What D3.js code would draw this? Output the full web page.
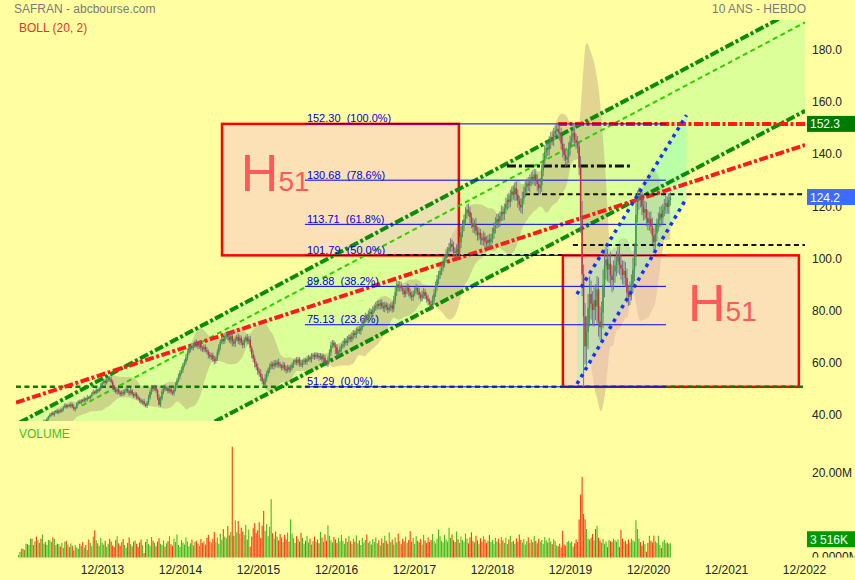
<!DOCTYPE html>
<html><head><meta charset="utf-8">
<script src="https://cdn.jsdelivr.net/npm/d3@7"></script>
<style>
body{margin:0;background:#FFFFA2;}
svg{display:block;font-family:"Liberation Sans",Arial,sans-serif;}
</style>
</head><body>
<svg id="c" width="855" height="580"></svg>
<script>
// ---------- DATA ----------
const startDate = "2012-11-05"; // first weekly candle
const closes = [
31.2,31.8,32.5,32.1,33.0,33.6,33.2,34.1,34.8,34.3,35.2,35.9,35.5,36.4,37.1,36.6,37.5,38.2,37.8,38.9,
39.8,40.5,41.2,40.6,41.5,42.0,41.3,42.2,41.8,
42.6,43.4,44.1,43.5,44.3,43.8,44.6,43.6,42.7,43.2,
44.8,45.6,45.1,46.2,45.7,46.8,46.3,47.2,46.9,47.8,
48.6,49.4,48.9,50.1,49.6,50.5,
51.8,52.9,53.6,52.8,53.9,54.6,54.1,53.2,
51.5,50.2,49.4,50.3,49.1,48.4,49.2,48.7,49.8,
50.4,49.6,48.8,49.9,48.5,47.9,48.6,47.4,46.8,
46.1,45.3,45.8,44.6,44.0,45.2,
47.1,49.3,51.2,50.4,50.9,49.8,47.2,
44.5,46.8,
49.5,51.1,50.3,50.8,49.6,50.5,49.4,
48.8,50.2,52.0,
53.8,55.2,56.9,57.8,59.6,60.8,62.5,
64.4,65.8,66.9,66.2,67.5,68.1,67.3,
66.8,67.9,66.3,65.7,66.6,65.4,64.8,
63.6,62.8,63.4,61.9,61.2,62.3,
64.5,66.8,68.4,69.6,68.9,70.8,71.5,
70.4,69.2,70.9,68.6,67.9,69.6,70.5,68.9,70.1,68.2,67.4,69.3,70.2,68.8,69.5,
66.2,63.8,62.1,60.2,58.9,57.3,56.5,
55.1,53.4,52.2,54.6,56.3,
57.8,58.9,60.1,59.2,60.4,59.6,60.8,59.9,
59.3,58.6,59.7,58.2,57.6,58.8,57.9,58.5,59.8,
60.7,61.5,60.6,61.8,60.2,59.7,60.9,61.4,60.8,
61.9,62.6,61.8,62.9,63.4,62.7,63.6,63.1,62.5,
63.2,61.9,62.4,60.8,60.1,61.7,
64.5,67.2,68.3,67.1,66.5,
63.8,64.6,
65.9,66.8,67.6,68.9,68.2,69.5,70.3,69.6,70.8,71.9,71.2,72.6,73.4,72.8,
74.1,75.6,76.9,78.2,77.6,79.4,80.1,79.3,80.8,81.6,82.3,
83.1,82.4,83.6,82.2,81.5,82.8,81.9,80.9,81.7,82.6,81.3,
84.5,87.8,90.6,89.4,90.2,
89.1,88.3,86.9,88.2,89.5,87.6,86.4,85.8,87.1,88.4,89.2,87.9,86.6,85.5,86.8,87.7,86.2,85.1,84.2,83.1,82.4,84.6,
87.2,89.8,92.6,94.3,95.9,97.2,99.1,100.6,102.3,103.5,
104.8,106.2,105.1,103.4,102.8,104.3,103.1,
106.8,110.5,113.2,115.6,117.9,119.4,118.6,
116.5,114.1,112.6,113.8,111.2,109.6,110.5,108.4,107.6,
108.9,107.2,106.4,107.8,106.9,108.3,
110.2,112.5,114.1,115.7,114.8,116.9,118.5,117.6,119.8,
121.5,123.2,122.4,124.8,126.3,125.2,127.6,
125.1,122.8,121.3,120.2,
123.6,126.2,127.9,129.4,128.6,130.7,131.9,131.1,132.8,
130.6,129.2,127.5,128.8,
134.5,138.2,141.6,143.1,142.4,145.2,147.1,146.3,148.5,
149.6,150.4,149.2,148.6,
144.8,142.1,140.3,138.6,139.5,
142.8,145.6,147.3,148.9,146.2,
145.0,143.6,
135.7,116.2,94.5,78.3,66.8,72.4,
81.6,86.9,83.2,80.8,84.5,82.1,
88.7,76.4,74.2,79.8,
90.5,97.8,100.2,96.4,98.6,94.1,92.3,95.6,97.9,99.4,
101.6,98.2,96.7,94.3,95.8,93.1,
87.4,85.9,88.2,90.7,
96.3,101.2,
117.4,122.8,124.6,123.1,
120.5,118.2,119.6,116.1,114.3,115.8,112.9,
109.4,106.8,110.2,
113.5,115.4,117.8,116.3,119.2,120.6,121.9,
120.4,123.1,124.2
];
// upper wick above the body, lower wick below the body
const highExt = [
0.4,0.5,0.3,0.6,0.4,0.5,0.3,0.6,0.5,0.4,0.6,0.3,0.5,0.4,0.6,0.5,0.3,0.6,0.4,0.5,
0.4,0.6,0.3,0.8,0.5,0.4,0.7,0.3,0.6,0.5,0.4,0.8,0.6,0.3,0.5,0.7,0.4,0.9,0.5,0.6,
0.5,0.8,0.4,0.6,0.7,0.3,0.9,0.5,0.4,0.6,0.8,0.5,0.7,0.4,0.6,0.9,0.5,0.7,0.8,0.6,
0.9,0.7,1.1,0.8,0.6,0.9,0.5,0.8,0.7,0.6,0.9,0.5,0.8,0.7,0.6,0.9,0.5,0.7,0.8,0.6,
0.7,0.5,0.8,0.6,0.9,0.5,0.7,1.1,0.9,0.8,0.7,0.9,1.0,0.6,1.2,0.8,0.9,0.7,1.0,0.6,
0.8,0.7,0.9,0.6,0.8,1.0,0.9,1.1,0.8,1.2,0.9,1.0,1.3,0.8,1.1,0.9,1.2,0.7,1.0,1.4,
0.9,1.1,1.3,0.8,1.0,0.9,1.2,0.8,1.1,0.9,1.0,1.3,0.8,1.2,0.9,1.1,1.4,0.8,1.2,1.0,
1.3,0.9,1.1,1.6,1.2,1.0,0.8,1.3,1.1,0.9,1.2,1.0,0.8,1.4,1.1,1.3,0.9,1.5,1.2,1.0,
1.4,1.1,1.6,1.2,1.0,1.5,1.1,0.9,1.3,1.0,0.8,1.2,1.1,0.9,1.3,1.0,0.8,1.2,0.9,1.1,
1.0,0.8,1.3,0.9,1.1,0.8,1.2,1.0,0.9,1.3,0.8,1.1,0.9,1.2,1.0,0.8,1.3,0.9,1.1,1.0,
0.8,1.2,1.0,0.9,1.4,1.1,0.8,1.3,1.2,1.5,1.0,0.9,1.3,1.1,0.9,1.2,1.0,1.4,1.1,0.9,
1.3,1.1,1.0,1.4,1.2,0.9,1.5,1.1,1.3,1.0,1.4,1.2,1.6,1.1,1.3,1.5,1.0,1.4,1.2,1.6,
1.3,1.5,1.1,1.4,1.6,1.2,1.0,1.5,1.3,1.1,1.4,1.8,2.1,1.5,1.3,1.7,1.4,1.2,1.6,1.3,
1.5,1.2,1.4,1.6,1.1,1.3,1.7,1.2,1.5,1.0,1.4,1.6,1.2,1.3,1.5,1.1,1.4,1.8,1.6,1.9,
1.7,1.5,1.8,1.4,1.9,1.6,2.0,1.5,1.8,2.2,1.6,1.9,1.4,1.7,2.0,2.3,2.6,2.1,1.8,2.4,
2.0,2.3,1.9,1.6,2.1,1.8,2.4,1.7,2.0,1.5,1.9,2.2,1.6,2.0,1.8,2.3,1.7,2.1,1.9,2.4,
2.0,2.2,1.8,2.5,2.1,1.9,2.4,2.0,2.6,2.2,1.9,2.3,2.1,2.5,2.0,1.8,2.3,2.6,2.1,2.4,
2.0,2.5,2.2,1.9,2.6,2.3,2.1,2.4,2.0,2.7,2.3,2.8,2.5,2.2,2.6,2.4,2.0,2.7,2.3,2.1,
1.9,2.4,2.6,2.2,2.8,2.5,2.1,2.9,2.4,2.2,2.6,3.4,2.5,2.2,2.6,2.1,4.2,6.5,3.8,5.2,
6.1,5.4,6.8,5.2,4.9,5.6,6.2,5.1,4.6,5.8,4.3,5.9,6.3,4.8,4.1,3.7,4.5,3.9,4.2,3.6,
4.0,3.5,4.3,3.8,3.2,3.9,3.4,3.6,3.1,3.5,3.8,4.6,5.2,6.4,3.9,3.3,2.8,3.5,2.9,3.2,
2.7,3.1,2.6,2.9,3.4,2.8,3.2,2.5,2.9,2.6,3.0,2.4,2.8,2.7,2.5,2.6,1.8
];
const lowExt = [
0.3,0.5,0.4,0.3,0.6,0.4,0.5,0.3,0.4,0.6,0.3,0.5,0.4,0.3,0.5,0.4,0.6,0.3,0.5,0.4,
0.5,0.3,0.6,0.4,0.7,0.5,0.3,0.6,0.4,0.5,0.7,0.4,0.6,0.5,0.3,0.8,0.5,0.6,0.9,0.4,
0.6,0.4,0.7,0.5,0.3,0.8,0.6,0.4,0.5,0.7,0.4,0.6,0.5,0.8,0.4,0.7,0.6,0.5,0.9,0.6,
0.7,0.8,0.6,1.0,0.9,0.7,1.1,0.6,0.8,0.7,0.9,0.6,0.8,0.7,1.0,0.6,0.8,0.9,0.7,1.0,
0.8,0.9,0.7,1.0,0.8,0.6,0.9,0.8,0.7,1.0,0.9,0.6,0.8,1.1,0.6,0.9,0.7,1.0,0.8,0.6,
0.9,0.7,1.0,0.8,0.9,0.7,1.0,0.8,1.1,0.9,1.2,0.8,1.0,1.1,0.9,1.3,0.8,1.0,1.2,0.9,
1.1,0.9,1.3,1.0,1.2,0.8,1.1,1.4,0.9,1.2,1.0,1.3,0.9,1.1,1.0,1.4,0.8,1.2,1.0,1.1,
1.2,1.0,1.4,1.8,1.1,1.3,0.9,1.2,1.5,1.0,1.3,1.1,0.9,1.2,1.0,1.4,1.6,1.3,1.5,1.2,
1.4,1.3,1.6,1.2,0.9,1.1,1.3,1.0,1.2,0.9,1.1,1.3,0.8,1.0,1.2,0.9,1.1,0.8,1.0,1.2,
0.9,1.1,1.0,0.8,1.2,0.9,1.1,1.0,1.3,0.8,1.0,1.2,0.9,1.1,0.8,1.0,1.2,0.9,1.1,0.8,
1.0,1.2,0.9,1.1,1.3,1.0,0.8,1.2,1.0,1.3,1.1,0.9,2.6,1.2,1.0,1.3,1.1,0.9,1.2,1.0,
1.1,1.3,1.0,1.2,1.4,1.1,1.3,1.0,1.2,1.5,1.1,1.3,1.0,1.4,1.2,1.1,1.5,1.3,1.0,1.2,
1.4,1.2,1.5,1.1,1.3,1.6,1.2,1.4,1.0,1.3,1.5,1.2,1.4,1.7,1.3,1.5,1.2,1.6,1.4,1.1,
1.3,1.6,1.2,1.5,1.4,1.1,1.6,1.3,1.5,1.2,1.4,1.7,1.3,1.5,1.6,1.4,1.8,1.5,1.7,1.4,
1.6,1.9,1.5,1.8,1.6,2.0,1.7,1.5,1.9,1.6,2.1,1.8,1.6,2.0,1.7,1.9,2.2,1.8,2.1,1.7,
2.0,1.8,2.3,1.9,2.1,2.4,1.8,2.2,2.0,2.5,1.9,2.1,2.3,1.8,2.2,2.0,2.4,1.9,2.1,2.3,
2.0,2.4,2.1,1.9,2.5,2.2,2.0,2.3,2.6,2.1,2.4,2.0,2.5,2.2,2.7,2.3,2.1,2.5,2.2,2.0,
2.4,2.1,2.6,2.3,2.0,2.5,2.2,2.8,2.4,2.1,2.6,2.3,2.0,2.7,2.4,2.2,2.5,2.1,2.6,2.3,
2.1,2.5,2.8,2.4,2.7,2.2,2.9,2.5,2.3,2.6,2.2,2.4,2.7,2.3,2.5,3.1,5.8,8.4,27.0,6.9,
7.5,6.8,7.2,6.1,5.9,6.4,5.2,6.6,5.8,4.9,5.5,6.1,4.8,5.3,4.6,5.1,4.2,4.7,3.9,4.4,
4.1,4.5,3.8,4.2,3.6,4.0,3.4,3.9,3.5,3.2,3.7,3.1,4.4,3.6,3.0,3.5,2.9,3.3,3.0,2.7,
3.2,2.8,3.1,2.6,3.3,2.9,2.7,3.0,2.5,2.8,3.1,2.6,2.4,2.9,2.5,2.7,2.2
];
// weekly volume, millions of shares
const volumes = [
0.7,1.5,2.2,2.2,1.9,3.4,3.3,3.1,4.6,4.6,3.1,4.0,5.1,4.2,3.6,4.6,5.6,3.4,3.8,3.1,4.3,4.2,3.8,4.9,4.6,3.1,3.4,3.3,2.7,3.6,2.4,3.9,4.1,3.2,2.6,3.5,2.9,1.8,3.1,2.5,
2.2,3.4,2.9,3.8,2.5,3.1,1.9,4.4,3.6,2.8,5.1,6.6,4.2,3.5,2.9,4.8,3.7,3.2,4.1,2.7,3.4,4.6,3.9,3.0,2.6,4.3,5.2,3.5,2.9,3.8,4.5,3.1,2.4,3.6,4.9,3.3,2.8,3.9,4.2,3.4,
2.6,3.7,4.4,3.0,1.2,3.8,4.5,3.3,2.9,5.0,4.1,3.6,2.8,3.9,4.7,3.4,3.1,4.2,2.7,3.5,4.0,5.2,3.3,2.9,4.6,3.8,5.6,3.1,2.6,4.3,3.7,3.2,4.9,3.9,2.8,3.5,4.4,3.0,3.8,4.1,
3.4,2.9,4.5,3.6,4.0,3.2,4.8,5.5,3.9,3.7,4.6,6.2,3.8,4.9,3.4,5.8,4.3,6.9,5.1,4.7,7.6,5.4,6.2,26.5,5.3,9.0,6.1,8.8,5.7,7.2,6.3,5.5,7.9,4.4,6.8,2.7,5.1,7.1,8.3,5.9,
6.6,8.5,4.8,7.7,11.2,6.4,8.1,5.2,7.4,14.0,5.9,4.6,6.3,5.1,4.2,5.7,4.9,3.8,5.5,4.4,6.1,3.9,9.2,5.8,4.7,3.6,5.2,4.5,3.9,6.0,4.8,3.4,4.1,5.3,3.7,4.6,3.2,4.0,5.1,3.8,
4.4,3.5,6.2,4.9,3.8,5.6,4.1,7.8,5.3,4.2,3.7,5.0,4.4,3.6,4.8,3.9,5.5,4.1,3.4,4.7,3.8,5.2,4.0,3.3,4.6,3.9,5.4,3.5,4.2,3.1,4.8,3.7,4.3,5.6,3.6,4.0,3.2,4.5,3.8,4.9,
3.5,4.2,3.0,4.7,3.6,5.3,4.1,3.4,6.1,3.8,4.4,3.2,4.9,3.7,5.8,4.0,3.3,4.6,3.9,5.1,3.6,4.3,6.4,3.9,4.8,3.4,5.2,4.1,3.7,4.5,3.2,5.5,4.2,3.6,4.9,3.8,4.3,5.7,4.0,3.5,
4.6,6.8,5.2,4.1,3.7,5.5,4.4,3.9,7.2,4.8,5.6,4.2,3.8,6.3,4.5,3.6,5.1,4.3,3.9,5.8,4.6,3.5,4.9,6.1,4.0,3.7,5.3,4.2,3.3,4.7,3.9,5.2,4.4,3.6,4.1,5.5,3.8,4.3,3.4,4.8,
3.9,4.6,3.5,5.0,4.2,3.6,4.8,3.3,4.4,5.3,3.8,4.1,3.4,4.7,3.9,5.6,4.3,3.7,4.5,3.2,4.0,4.9,3.6,4.4,3.8,5.2,4.1,3.5,4.6,3.9,4.3,3.4,5.0,4.2,3.7,4.8,3.9,3.3,4.5,4.0,
3.0,2.8,3.4,2.5,6.5,3.2,2.9,3.8,4.1,3.6,3.9,2.7,3.5,4.4,3.8,9.2,15.1,19.3,10.5,9.2,6.9,4.6,4.4,4.8,5.7,4.2,6.9,7.7,4.8,4.1,3.6,4.5,3.4,3.9,2.6,4.3,4.0,3.8,4.6,4.2,
3.9,4.4,2.6,6.7,4.6,3.8,4.1,3.3,4.4,3.6,4.6,4.2,3.9,9.0,6.9,4.6,3.8,2.9,4.1,3.3,1.5,3.6,5.3,4.1,3.7,5.3,4.0,3.6,5.3,3.1,2.4,3.9,4.3,3.5,3.7,3.4,3.516
];
const priceTicks = [40,60,80,100,120,140,160,180];
const volumeTicks = [0,20];
const volumeTickLabels = ["0.0000M","20.00M"];
const xTickDates = ["2013-12-01","2014-12-01","2015-12-01","2016-12-01","2017-12-01","2018-12-01","2019-12-01","2020-12-01","2021-12-01","2022-12-01"];
// Fibonacci retracement
const fibLevels = [152.30,130.68,113.71,101.79,89.88,75.13,51.29];
const fibPercents = ["100.0%","78.6%","61.8%","50.0%","38.2%","23.6%","0.0%"];
const fibSpan = ["2016-07-08","2021-02-23"];
// drawn channels / trend lines: [date, price]
const channelUpper = [["2012-11-12",37.63],["2022-12-06",198.0]];
const channelMid   = [["2013-08-29",44.1],["2022-12-06",191.3]];
const channelLower = [["2015-03-04",34.9],["2022-12-06",157.3]];
const trendRed     = [["2012-10-24",45.2],["2022-12-06",144.2]];
const blueUpper    = [["2020-01-03",86.9],["2021-05-30",155.7]];
const blueLower    = [["2020-01-03",52.4],["2021-05-30",123.8]];
// horizontal levels: [from, to, price]
const redLevel = ["2019-10-06","2022-12-06",152.3];
const blackDashDotLevel = ["2019-02-09","2020-09-17",136.1];
const blackDashLevels = [["2019-05-05","2022-12-06",125.3],["2019-12-15","2022-12-06",105.8],["2017-07-31","2019-10-24",101.9]];
const greenLevel = ["2012-10-24","2022-12-06",51.29];
// H51 boxes: [from, to, low, high], label anchor [date, price]
const boxes = [["2015-06-16","2018-06-29",101.79,152.3],["2019-10-29","2022-11-07",51.29,101.79]];
const boxLabels = [["2015-09-12",126.5],["2021-06-06",76.6]];

// ---------- CHART ----------
const W = 855, H = 580;
const parseDate = d3.timeParse("%Y-%m-%d");
const n = Math.min(closes.length, highExt.length, lowExt.length, volumes.length);
const t0 = parseDate(startDate);
const data = d3.range(n).map(i => {
  const c = closes[i], o = i === 0 ? closes[0] : closes[i-1];
  return {date: d3.timeDay.offset(t0, 7*i), open: o, close: c,
          high: Math.max(o,c) + highExt[i], low: Math.min(o,c) - lowExt[i], vol: volumes[i]};
});

const x = d3.scaleTime().domain([parseDate("2013-12-01"), parseDate("2022-12-01")]).range([102, 804]);
const y = d3.scaleLinear().domain([40, 180]).range([416.2, 51.8]);
const vy = d3.scaleLinear().domain([0, 20]).range([558, 474]);

const svg = d3.select("#c");
svg.append("rect").attr("width", W).attr("height", H).attr("fill", "#FFFFA2");
const defs = svg.append("defs");
defs.append("clipPath").attr("id", "pc").append("rect").attr("x", 16).attr("y", 20).attr("width", 789).attr("height", 401);
defs.append("clipPath").attr("id", "vc").append("rect").attr("x", 0).attr("y", 440).attr("width", W).attr("height", 117.5);

const P = svg.append("g").attr("clip-path", "url(#pc)");
const pt = a => [x(parseDate(a[0])), y(a[1])];
const seg = d3.line();

// channel fill
P.append("path")
  .attr("d", seg([pt(channelUpper[0]), pt(channelUpper[1]), pt(channelLower[1]), pt(channelLower[0])]) + "Z")
  .attr("fill", "#DDFF99");

// Bollinger (20, 2)
const boll = [];
for (let i = 19; i < n; i++) {
  const w = data.slice(i-19, i+1).map(d => d.close);
  const m = d3.mean(w);
  const sd = Math.sqrt(d3.mean(w, v => (v-m)*(v-m)));
  boll.push({date: data[i].date, up: m + 2*sd, lo: m - 2*sd});
}
P.append("path").datum(boll)
  .attr("d", d3.area().x(d => x(d.date)).y0(d => y(d.lo)).y1(d => y(d.up)).curve(d3.curveMonotoneX))
  .attr("fill", "rgba(165,125,110,0.32)");

// boxes
boxes.forEach(b => {
  const x0 = x(parseDate(b[0])), x1 = x(parseDate(b[1]));
  P.append("rect").attr("x", x0).attr("y", y(b[3])).attr("width", x1-x0).attr("height", y(b[2]) - y(b[3]))
    .attr("fill", "rgba(248,196,200,0.5)").attr("stroke", "#FF0000").attr("stroke-width", 2.5);
});
boxLabels.forEach(l => {
  const t = P.append("text").attr("x", x(parseDate(l[0]))).attr("y", y(l[1])).attr("fill", "#FF5A5A");
  t.append("tspan").attr("font-size", 52).text("H");
  t.append("tspan").attr("font-size", 28).text("51");
});

// blue channel fill
P.append("path")
  .attr("d", seg([pt(blueUpper[0]), pt(blueUpper[1]), pt(blueLower[1]), pt(blueLower[0])]) + "Z")
  .attr("fill", "rgba(120,255,190,0.35)");

// lines
function drawLine(pts, color, width, dash) {
  P.append("path").attr("d", seg(pts.map(pt))).attr("fill", "none")
    .attr("stroke", color).attr("stroke-width", width).attr("stroke-dasharray", dash);
}
const hl = a => [[a[0], a[2]], [a[1], a[2]]];
drawLine(hl(greenLevel), "#087A08", 2.5, "5,3.5");
drawLine(channelUpper, "#0A8C0A", 4, "9,2.5,3,2.5");
drawLine(channelLower, "#0A8C0A", 4, "9,2.5,3,2.5");
drawLine(channelMid, "#33CC00", 2, "5,3.5");
drawLine(trendRed, "#FF1A1A", 4, "9,2.5,3,2.5");
drawLine(hl(redLevel), "#FF1A1A", 4, "9,2.5,3,2.5");
drawLine(hl(blackDashDotLevel), "#111", 3, "9,3,3,3");
blackDashLevels.forEach(l => drawLine(hl(l), "#111", 2, "5,3.5"));

// fibonacci
const fx0 = x(parseDate(fibSpan[0])), fx1 = x(parseDate(fibSpan[1]));
fibLevels.forEach((v, i) => {
  P.append("line").attr("x1", fx0).attr("x2", fx1).attr("y1", y(v)).attr("y2", y(v))
    .attr("stroke", "#0000EE").attr("stroke-width", 1);
  P.append("text").attr("x", fx0 + 2).attr("y", y(v) - 1.5).attr("font-size", 11).attr("fill", "#0000DD")
    .style("white-space", "pre").text(d3.format(".2f")(v) + "  (" + fibPercents[i] + ")");
});

// candles
const cg = P.append("g");
cg.selectAll("line.w").data(data).join("line")
  .attr("x1", d => x(d.date)).attr("x2", d => x(d.date))
  .attr("y1", d => y(d.high)).attr("y2", d => y(d.low))
  .attr("stroke", "#6A7080").attr("stroke-width", 0.9);
cg.selectAll("rect").data(data).join("rect")
  .attr("x", d => x(d.date) - 0.75).attr("width", 1.5)
  .attr("y", d => y(Math.max(d.open, d.close)))
  .attr("height", d => Math.max(1, Math.abs(y(d.open) - y(d.close))))
  .attr("fill", d => d.close >= d.open ? "#2EA52E" : "#CC2C48");

// blue dotted lines on top
drawLine(blueUpper, "#1133FF", 3.5, "3.5,4.5");
drawLine(blueLower, "#1133FF", 3.5, "3.5,4.5");

// price axis
const pa = svg.append("g").attr("transform", "translate(812,0)")
  .call(d3.axisRight(y).tickValues(priceTicks).tickFormat(d3.format(".4r")).tickSize(0).tickPadding(0));
pa.select(".domain").remove();
pa.selectAll("text").attr("font-size", 12).attr("fill", "#222").attr("font-family", "Liberation Sans, Arial, sans-serif").attr("dy", "0.17em");

// badges
function badge(yc, label, color) {
  svg.append("rect").attr("x", 807).attr("y", yc - 8).attr("width", 48).attr("height", 16).attr("fill", color);
  svg.append("text").attr("x", 810).attr("y", yc + 4.5).attr("font-size", 12).attr("fill", "#fff").text(label);
}
badge(y(redLevel[2]), d3.format(".1f")(redLevel[2]), "#007A00");
badge(y(data[n-1].close), d3.format(".1f")(data[n-1].close), "#3D6BFF");

// volume
const V = svg.append("g").attr("clip-path", "url(#vc)");
V.selectAll("rect").data(data).join("rect")
  .attr("x", d => x(d.date) - 0.55).attr("width", 1.1)
  .attr("y", d => vy(d.vol)).attr("height", d => vy(0) - vy(d.vol))
  .attr("fill", d => d.close >= d.open ? "#44BB22" : "#FF3A14");
const va = V.append("g").attr("transform", "translate(812,0)")
  .call(d3.axisRight(vy).tickValues(volumeTicks).tickFormat((d, i) => volumeTickLabels[i]).tickSize(0).tickPadding(0));
va.select(".domain").remove();
va.selectAll("text").attr("font-size", 12).attr("fill", "#222").attr("font-family", "Liberation Sans, Arial, sans-serif").attr("dy", "0.17em");
const frLocale = d3.formatLocale({decimal: ",", thousands: " ", grouping: [3], currency: ["", " €"]});
badge(vy(data[n-1].vol) - 4, frLocale.format(",.0f")(data[n-1].vol * 1000) + "K", "#009900");

// time axis
const xa = svg.append("g").attr("transform", "translate(0,562)")
  .call(d3.axisBottom(x).tickValues(xTickDates.map(parseDate)).tickFormat(d3.timeFormat("%m/%Y")).tickSize(0).tickPadding(3));
xa.select(".domain").remove();
xa.selectAll("text").attr("font-size", 12).attr("fill", "#222").attr("font-family", "Liberation Sans, Arial, sans-serif");

// titles
svg.append("text").attr("x", 14).attr("y", 13).attr("font-size", 12).attr("fill", "#7A7A7A").text("SAFRAN - abcbourse.com");
svg.append("text").attr("x", 19).attr("y", 32).attr("font-size", 12).attr("fill", "#EE3322").text("BOLL (20, 2)");
svg.append("text").attr("x", 806).attr("y", 13).attr("font-size", 12).attr("fill", "#7A7A7A").attr("text-anchor", "end").text("10 ANS - HEBDO");
svg.append("text").attr("x", 19).attr("y", 438).attr("font-size", 12).attr("fill", "#44BB22").text("VOLUME");
</script>
</body></html>
